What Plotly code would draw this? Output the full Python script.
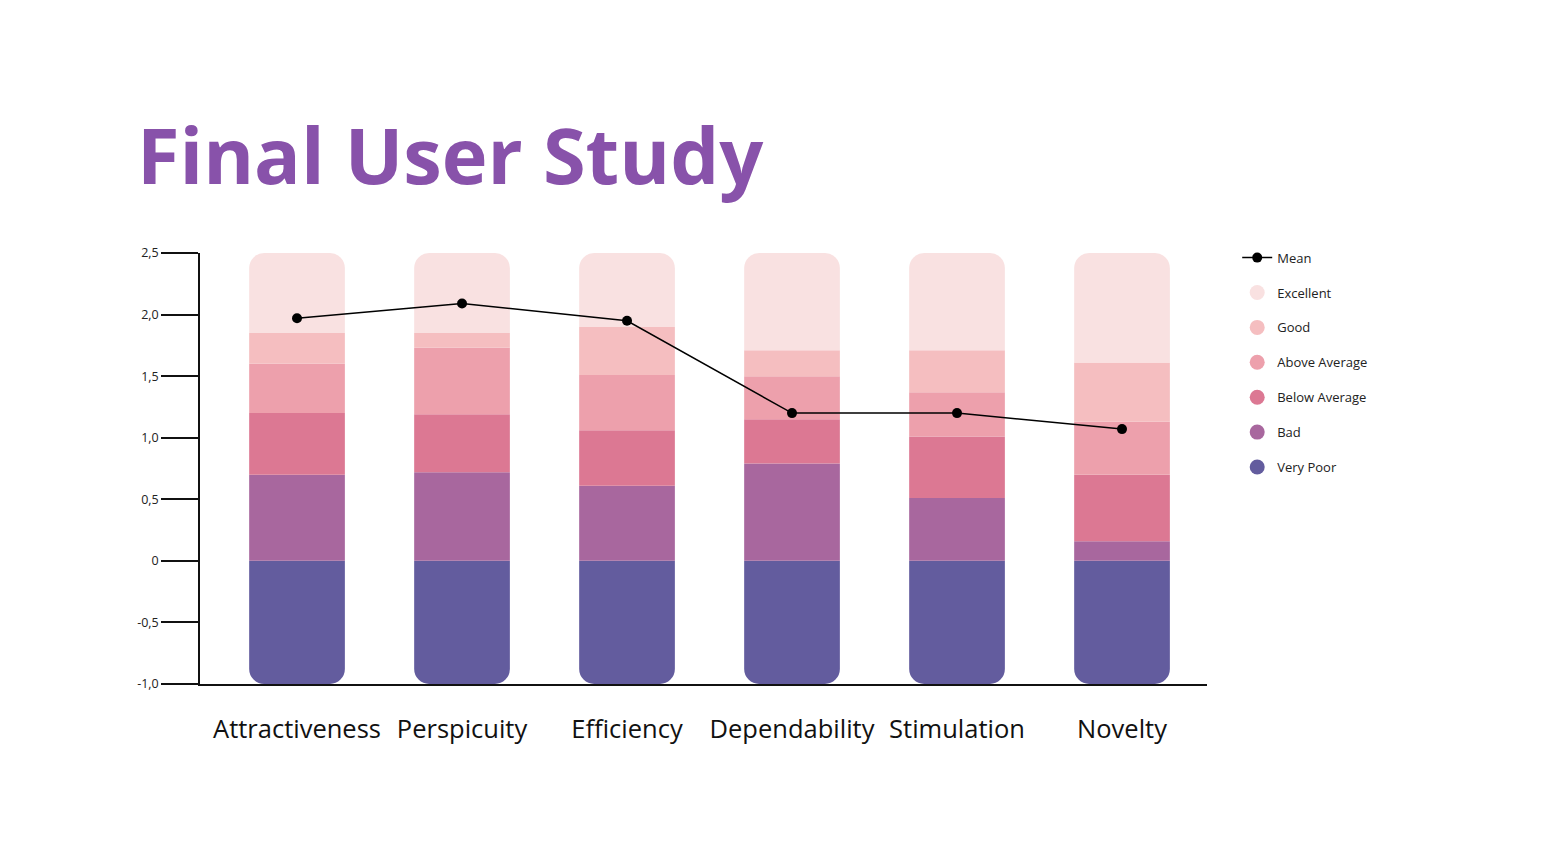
import numpy as np
import plotly.graph_objects as go

categories = ["Attractiveness", "Perspicuity", "Efficiency", "Dependability", "Stimulation", "Novelty"]

# Upper boundaries of each benchmark band (Very Poor spans from its bottom up to 0)
very_poor_bottom = [-1.0, -1.0, -1.0, -1.0, -1.0, -1.0]
bad_top = [0.70, 0.72, 0.61, 0.79, 0.51, 0.16]
below_avg_top = [1.20, 1.19, 1.06, 1.15, 1.01, 0.70]
above_avg_top = [1.60, 1.73, 1.51, 1.50, 1.37, 1.13]
good_top = [1.85, 1.85, 1.90, 1.71, 1.71, 1.61]
excellent_top = [2.5, 2.5, 2.5, 2.5, 2.5, 2.5]

mean_values = [1.97, 2.09, 1.95, 1.20, 1.20, 1.07]

y_tickvals = [-1.0, -0.5, 0, 0.5, 1.0, 1.5, 2.0, 2.5]
y_ticktext = ["-1,0", "-0,5", "0", "0,5", "1,0", "1,5", "2,0", "2,5"]

band_names = ["Very Poor", "Bad", "Below Average", "Above Average", "Good", "Excellent"]
band_colors = ["#635C9E", "#A8679E", "#DC7893", "#EDA0AC", "#F5BEC0", "#F9E1E1"]

x = np.arange(len(categories))
tops = [bad_top, below_avg_top, above_avg_top, good_top, excellent_top]
lowers = [np.zeros(len(categories))] + [np.array(t) for t in tops[:-1]]

fig = go.Figure()

# Very Poor: negative stack from 0 down
fig.add_trace(go.Bar(x=x, y=np.array(very_poor_bottom), marker_color=band_colors[0],
                     marker_line_width=0, width=0.58, showlegend=False, name=band_names[0]))
for i, (t, lo) in enumerate(zip(tops, lowers)):
    fig.add_trace(go.Bar(x=x, y=np.array(t) - lo, marker_color=band_colors[i + 1],
                         marker_line_width=0, width=0.58, showlegend=False,
                         name=band_names[i + 1]))

fig.add_trace(go.Scatter(x=x, y=mean_values, mode="lines+markers", name="Mean",
                         line=dict(color="#000000", width=1.5),
                         marker=dict(color="#000000", size=10),
                         legendgroup="mean", legendrank=1))

# legend proxies (circle markers)
for rank, (nm, col) in enumerate(zip(band_names[::-1], band_colors[::-1])):
    fig.add_trace(go.Scatter(x=[None], y=[None], mode="markers", name=nm,
                             marker=dict(color=col, size=15, symbol="circle"),
                             legendgroup=nm, legendrank=rank + 2))

fig.update_layout(
    width=1534, height=840,
    barmode="relative",
    barcornerradius=15,
    plot_bgcolor="white", paper_bgcolor="white",
    margin=dict(l=192, r=335, t=245, b=164),
    font=dict(family="Open Sans", color="#222222"),
    title=dict(text="<b>Final User Study</b>", x=129 / 1534, xanchor="left",
               y=1 - 149 / 840, yanchor="middle", xref="container", yref="container",
               font=dict(family="Open Sans", size=77.5, color="#8852AA")),
    legend=dict(x=1.030, y=1.024, xanchor="left", yanchor="top",
                font=dict(family="Open Sans", size=13, color="#222222"),
                tracegroupgap=15, itemsizing="trace", bgcolor="rgba(0,0,0,0)"),
    xaxis=dict(range=[-0.588, 5.515], tickvals=list(x), ticktext=categories,
               showgrid=False, zeroline=False, showline=True, linecolor="#111111",
               linewidth=1.5, ticks="", tickfont=dict(size=25.5, color="#111111",
                                                      family="Open Sans"),
               ticklabelstandoff=22),
    yaxis=dict(range=[-1.0, 2.5], tickvals=y_tickvals, ticktext=y_ticktext,
               showgrid=False, zeroline=False, showline=True, linecolor="#111111",
               linewidth=1.5, ticks="outside", ticklen=37, tickwidth=1.5,
               tickcolor="#111111", tickfont=dict(size=12.5, color="#222222",
                                                  family="Open Sans")),
)

fig.write_html("out.html")
